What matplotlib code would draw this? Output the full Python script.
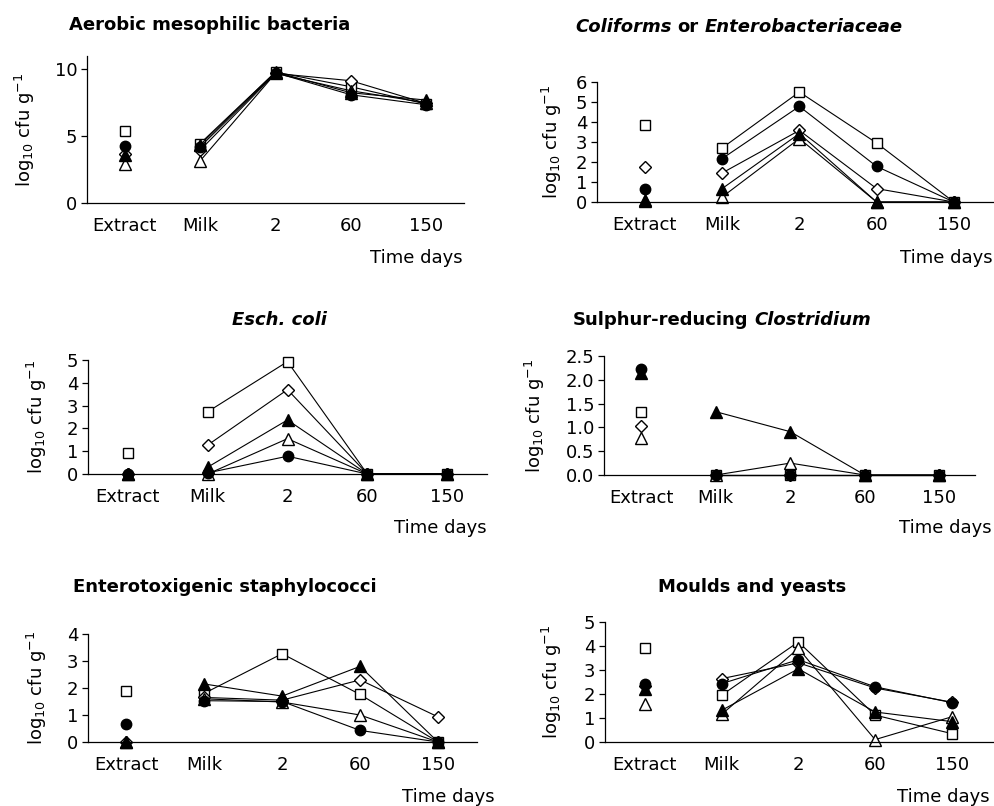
import numpy as np
import matplotlib.pyplot as plt

plt.rcParams['font.family'] = 'DejaVu Sans'
plt.rcParams['mathtext.fontset'] = 'dejavusans'

W, H = 994, 806

time_labels = ['Extract', 'Milk', '2', '60', '150']

# rows: open square, filled circle, open diamond, filled triangle, open triangle
aerobic = [
    [5.4, 4.45, 9.8, 8.7, 7.4],
    [4.25, 4.2, 9.75, 8.1, 7.35],
    [3.7, 3.95, 9.7, 9.15, 7.45],
    [3.6, 4.35, 9.8, 8.25, 7.7],
    [2.95, 3.15, 9.7, 8.4, 7.5],
]
coliforms = [
    [3.83, 2.7, 5.5, 2.95, 0],
    [0.63, 2.17, 4.78, 1.78, 0],
    [1.75, 1.45, 3.58, 0.67, 0],
    [0.12, 0.67, 3.42, 0, 0],
    [0.05, 0.25, 3.17, 0, 0],
]
ecoli = [
    [0.9, 2.73, 4.93, 0, 0],
    [0, 0.05, 0.78, 0, 0],
    [0, 1.27, 3.7, 0, 0],
    [0, 0.3, 2.37, 0, 0],
    [0, 0, 1.55, 0, 0],
]
clostridium = [
    [1.32, 0, 0, 0, 0],
    [2.22, 0, 0, 0, 0],
    [1.02, 0, 0, 0, 0],
    [2.15, 1.33, 0.91, 0, 0],
    [0.77, 0, 0.25, 0, 0],
]
staph = [
    [1.9, 1.8, 3.27, 1.76, 0],
    [0.68, 1.53, 1.5, 0.43, 0],
    [0, 1.65, 1.55, 2.3, 0.93],
    [0, 2.15, 1.7, 2.8, 0],
    [0, 1.6, 1.48, 1.0, 0],
]
moulds = [
    [3.9, 1.95, 4.17, 1.12, 0.35],
    [2.43, 2.43, 3.43, 2.3, 1.64],
    [2.35, 2.64, 3.3, 2.25, 1.66],
    [2.22, 1.32, 3.05, 1.25, 0.85],
    [1.57, 1.15, 3.9, 0.1, 1.05],
]

titles = [
    [('Aerobic mesophilic bacteria', 'normal')],
    [('Coliforms', 'italic'), ('or', 'normal'), ('Enterobacteriaceae', 'italic')],
    [('Esch. coli', 'italic')],
    [('Sulphur-reducing', 'normal'), ('Clostridium', 'italic')],
    [('Enterotoxigenic staphylococci', 'normal')],
    [('Moulds and yeasts', 'normal')],
]
panel_data = [aerobic, coliforms, ecoli, clostridium, staph, moulds]
y_max = [11, 6, 5, 2.5, 4, 5]
y_ticks = [[0, 5, 10], range(0, 7), range(0, 6),
           [0, 0.5, 1.0, 1.5, 2.0, 2.5], range(0, 5), range(0, 6)]

# layout in pixels: axis left, right, top, bottom, xlim
boxes = [
    (87, 464, 56, 203, (-0.5, 4.5)),
    (597, 994, 82, 202, (-0.62, 4.52)),
    (88, 487, 360, 474, (-0.5, 4.5)),
    (604, 975, 356, 475, (-0.5, 4.48)),
    (88, 477, 634, 742, (-0.49, 4.5)),
    (605, 994, 622, 742, (-0.52, 4.55)),
]
title_pos = [(210, 25), (739, 27), (279, 320), (722, 320), (225, 587), (752, 587)]
ylabel_x = [25, 552, 37, 535, 37, 552]
timedays_pos = [(463, 258), (993, 258), (487, 528), (992, 528), (495, 797), (990, 797)]

markers = ['s', 'o', 'D', '^', '^']
faces = ['white', 'black', 'white', 'black', 'white']
msizes = [7, 7.5, 6, 8, 8]
draw_order = [0, 2, 4, 1, 3]

fig = plt.figure(figsize=(W / 100, H / 100), dpi=100)
renderer = fig.canvas.get_renderer()

x = np.arange(len(time_labels))

for k in range(6):
    l, r, t, b, xl = boxes[k]
    ax = fig.add_axes([l / W, 1 - b / H, (r - l) / W, (b - t) / H])
    data = panel_data[k]
    for i in draw_order:
        vals = data[i]
        ax.plot(x[1:], vals[1:], color='black', lw=0.8, marker=markers[i],
                mfc=faces[i], mec='black', mew=1.0, ms=msizes[i], clip_on=False)
        ax.plot(x[0], vals[0], linestyle='none', marker=markers[i],
                mfc=faces[i], mec='black', mew=1.0, ms=msizes[i], clip_on=False)
    ax.set_xlim(*xl)
    ax.set_ylim(0, y_max[k])
    ax.set_yticks(list(y_ticks[k]))
    if k == 3:
        ax.set_yticklabels(['%.1f' % v for v in y_ticks[k]])
    ax.set_xticks(x)
    ax.set_xticklabels(time_labels)
    ax.tick_params(axis='x', length=0, pad=10, labelsize=13)
    ax.tick_params(axis='y', direction='out', length=4, width=0.9, pad=3, labelsize=13)
    ax.spines['top'].set_visible(False)
    ax.spines['right'].set_visible(False)
    ax.spines['left'].set_linewidth(0.9)
    ax.spines['bottom'].set_linewidth(0.9)

    fig.text(ylabel_x[k] / W, 1 - ((t + b) / 2) / H, r'log$_{10}$ cfu g$^{-1}$',
             rotation=90, ha='center', va='center', fontsize=13)
    tx, ty = timedays_pos[k]
    fig.text(tx / W, 1 - ty / H, 'Time days', ha='right', va='center', fontsize=13)

    # title built from pieces so part of it can be italic
    cx, cy = title_pos[k]
    pieces = []
    for s, style in titles[k]:
        pieces.append(fig.text(0, 1 - cy / H, s, fontsize=13, fontweight='bold',
                               fontstyle=style, ha='left', va='center'))
    widths = [p.get_window_extent(renderer).width for p in pieces]
    gap = 6
    total = sum(widths) + gap * (len(pieces) - 1)
    xpos = cx - total / 2
    for p, w in zip(pieces, widths):
        p.set_x(xpos / W)
        xpos += w + gap

fig.savefig('out.png', dpi=100)
